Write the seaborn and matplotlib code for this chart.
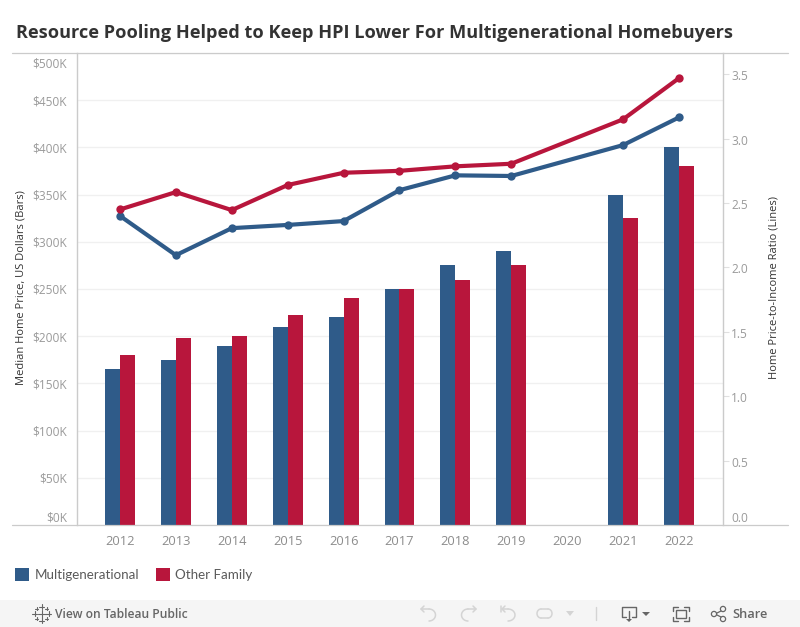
import matplotlib
matplotlib.use("Agg")
import matplotlib.pyplot as plt
from matplotlib.patches import Rectangle, Circle, Polygon
from matplotlib.transforms import ScaledTranslation
import numpy as np
import pandas as pd
import seaborn as sns

years = ["2012", "2013", "2014", "2015", "2016", "2017", "2018", "2019", "2020", "2021", "2022"]
groups = ["Multigenerational", "Other Family"]
price_multi = [165000, 175000, 190000, 210000, 220000, 250000, 275000, 290000, np.nan, 350000, 400000]
price_other = [180000, 198000, 200000, 222000, 240000, 250000, 260000, 275000, np.nan, 325000, 380000]
ratio_multi = [2.40, 2.095, 2.305, 2.33, 2.36, 2.60, 2.715, 2.71, np.nan, 2.95, 3.165]
ratio_other = [2.45, 2.585, 2.445, 2.64, 2.735, 2.75, 2.785, 2.805, np.nan, 3.15, 3.47]
left_ticks = [0, 50, 100, 150, 200, 250, 300, 350, 400, 450, 500]
right_ticks = [0.0, 0.5, 1.0, 1.5, 2.0, 2.5, 3.0, 3.5]

BLUE = "#2F5B89"
RED = "#B8163C"
palette = dict(zip(groups, [BLUE, RED]))

sns.set_theme(style="white")
plt.rcParams["font.family"] = ["Open Sans", "DejaVu Sans"]

W, H = 800, 627
fig = plt.figure(figsize=(W / 100, H / 100), dpi=100, facecolor="white")

# chrome layer, in pixel coordinates
ch = fig.add_axes([0, 0, 1, 1], zorder=0)
ch.set_xlim(0, W)
ch.set_ylim(H, 0)
ch.axis("off")
ch.add_patch(Rectangle((0, 600), W, 27, fc="#F5F5F5", ec="none"))

ax = fig.add_axes([76.5 / W, (H - 525) / H, 646.5 / W, 472 / H], zorder=1)
ax.patch.set_alpha(0)

bars = pd.DataFrame({
    "year": years * 2,
    "group": [groups[0]] * len(years) + [groups[1]] * len(years),
    "price": price_multi + price_other,
})
sns.barplot(data=bars, x="year", y="price", hue="group", order=years, hue_order=groups,
            palette=palette, width=0.536, gap=0, saturation=1, errorbar=None, ax=ax, zorder=2,
            edgecolor="none", linewidth=0)
ax.set_xlim(-0.778, 10.787)
ax.set_ylim(0, 500000)
ax.set_yticks([v * 1000 for v in left_ticks])
ax.set_yticklabels([f"${v}K" for v in left_ticks])
ax.yaxis.grid(True, color="#F0F0F0", lw=1)
ax.set_axisbelow(True)
ax.set_xlabel("")
ax.set_ylabel("")
ax.tick_params(axis="x", length=3, width=0.8, color="#E6E6E6", labelsize=9.3, labelcolor="#8C8C8C", pad=4.5)
ax.tick_params(axis="y", length=0, labelsize=8.6, labelcolor="#9A9A9A", pad=7)
for s in ["top", "bottom", "right"]:
    ax.spines[s].set_visible(False)
ax.spines["left"].set_color("#CBCBCB")
ax.spines["left"].set_linewidth(1)

ax2 = ax.twinx()
ax2.patch.set_alpha(0)
pos = {y: i for i, y in enumerate(years)}
lines = pd.DataFrame({
    "pos": [pos[y] for y in years] * 2,
    "group": [groups[0]] * len(years) + [groups[1]] * len(years),
    "ratio": ratio_multi + ratio_other,
}).dropna()
sns.lineplot(data=lines, x="pos", y="ratio", hue="group", hue_order=groups, palette=palette,
             lw=3, marker="o", markersize=6, markeredgewidth=0, errorbar=None, legend=False, ax=ax2)
ax2.set_xlim(-0.778, 10.787)
ax2.set_ylim(0, 3.665)
ax2.set_yticks(right_ticks)
ax2.set_yticklabels([f"{v:.1f}" for v in right_ticks])
ax2.set_xlabel("")
ax2.set_ylabel("")
ax2.tick_params(axis="y", length=4, width=0.8, color="#E0E0E0", labelsize=8.6, labelcolor="#9A9A9A", pad=2)
for s in ["top", "bottom", "left"]:
    ax2.spines[s].set_visible(False)
ax2.spines["right"].set_color("#CBCBCB")
ax2.spines["right"].set_linewidth(1)


def nudge(label, dy_px):
    label.set_transform(label.get_transform() + ScaledTranslation(0, dy_px / 100, fig.dpi_scale_trans))


axl = ax.get_yticklabels()
nudge(axl[0], 8)
nudge(axl[-1], -9)
nudge(ax2.get_yticklabels()[0], 8)
for lab in ax2.get_yticklabels()[1:]:
    nudge(lab, -1)

# legend from the bars
handles, labels = ax.get_legend_handles_labels()
if ax.get_legend():
    ax.get_legend().remove()
leg = fig.legend(handles, labels, loc="center left", bbox_to_anchor=(12 / W, 1 - 574.5 / H), ncol=2, frameon=False,
                 prop={"family": ["Lato", "DejaVu Sans"], "size": 9.6},
                 handlelength=1.05, handleheight=1.05, handletextpad=0.42, columnspacing=1.25,
                 labelcolor="#5A5A5A", borderpad=0.2, borderaxespad=0)

# titles
fig.text(16 / W, 1 - 32.5 / H, "Resource Pooling Helped to Keep HPI Lower For Multigenerational Homebuyers",
         fontsize=13.1, fontweight="bold", color="#333333", va="center", ha="left")
fig.text(21 / W, 1 - 288 / H, "Median Home Price, US Dollars (Bars)", rotation=90, fontsize=8,
         color="#333333", va="center", ha="center")
fig.text(774 / W, 1 - 288 / H, "Home Price-to-Income Ratio (Lines)", rotation=90, fontsize=8,
         color="#333333", va="center", ha="center")

# rules and footer, above plot layer
ov = fig.add_axes([0, 0, 1, 1], zorder=3)
ov.set_xlim(0, W)
ov.set_ylim(H, 0)
ov.axis("off")
ov.patch.set_alpha(0)
ov.plot([12, 788], [53, 53], color="#CBCBCB", lw=0.9)
ov.plot([12, 788], [525, 525], color="#CBCBCB", lw=0.9)

ov.text(55, 614.5, "View on Tableau Public", fontsize=8.75, color="#666666", va="center", fontweight="semibold")
ov.text(732, 614.5, "Share", fontsize=9.3, color="#666666", va="center", fontweight="semibold")

# tableau logo
for cx, cy, r in [(41.5, 613.5, 4), (41.5, 606.5, 2.5), (41.5, 620.5, 2.5), (34.5, 613.5, 2.5), (48.5, 613.5, 2.5),
                  (36.5, 608.5, 1.5), (46.5, 608.5, 1.5), (36.5, 618.5, 1.5), (46.5, 618.5, 1.5)]:
    ov.plot([cx - r, cx + r], [cy, cy], color="#666666", lw=0.8)
    ov.plot([cx, cx], [cy - r, cy + r], color="#666666", lw=0.8)

GR = "#D4D4D4"
# undo, redo, revert, refresh
t = np.linspace(-np.pi / 2, np.pi / 2, 20)
ov.plot(429 + 6.5 * np.cos(t), 615 + 6 * np.sin(t), color=GR, lw=1.1)
ov.plot([429, 421], [609, 609], color=GR, lw=1.1)
ov.plot([424, 421, 424], [606, 609, 612], color=GR, lw=1.1)
ov.plot(468 - 6.5 * np.cos(t), 615 + 6 * np.sin(t), color=GR, lw=1.1)
ov.plot([468, 476], [609, 609], color=GR, lw=1.1)
ov.plot([473, 476, 473], [606, 609, 612], color=GR, lw=1.1)
ov.plot(508 + 7 * np.cos(t), 615 + 6 * np.sin(t), color=GR, lw=1.1)
ov.plot([508, 502], [609, 609], color=GR, lw=1.1)
ov.plot([505, 502, 505], [606, 609, 612], color=GR, lw=1.1)
ov.plot([500.5, 500.5], [606, 612], color=GR, lw=1.1)
ov.plot(548 + 4 * np.cos(t), 613.5 + 4.5 * np.sin(t), color=GR, lw=1.1)
ov.plot(541 - 4 * np.cos(t), 613.5 + 4.5 * np.sin(t), color=GR, lw=1.1)
ov.plot([541, 548], [609, 609], color=GR, lw=1.1)
ov.plot([541, 548], [618, 618], color=GR, lw=1.1)
ov.add_patch(Polygon([[566, 611], [574, 611], [570, 616]], fc=GR, ec="none"))
ov.plot([595.5, 595.5], [607, 620], color=GR, lw=1)

# download
DK = "#666666"
ov.plot([626, 622, 622, 636, 636, 632], [617, 617, 607, 607, 617, 617], color=DK, lw=1)
ov.plot([629, 629], [611, 620], color=DK, lw=1)
ov.add_patch(Polygon([[626, 619], [632, 619], [629, 622]], fc=DK, ec="none"))
ov.add_patch(Polygon([[642, 612], [650, 612], [646, 616]], fc=DK, ec="none"))
# fullscreen
ov.plot([673, 673, 678], [611, 607, 607], color=DK, lw=1)
ov.plot([684, 689, 689], [607, 607, 611], color=DK, lw=1)
ov.plot([673, 673, 678], [617, 621, 621], color=DK, lw=1)
ov.plot([684, 689, 689], [621, 621, 617], color=DK, lw=1)
ov.add_patch(Rectangle((676, 610), 10, 8, fc="none", ec=DK, lw=1))
# share
ov.plot([715, 723], [614, 610], color=DK, lw=0.9)
ov.plot([715, 723], [614, 618], color=DK, lw=0.9)
for cx, cy in [(714, 614), (723, 609), (723, 619)]:
    ov.add_patch(Circle((cx, cy), 2.6, fc="#F5F5F5", ec=DK, lw=0.9, zorder=5))

fig.savefig("out.png", dpi=100, facecolor="white")
